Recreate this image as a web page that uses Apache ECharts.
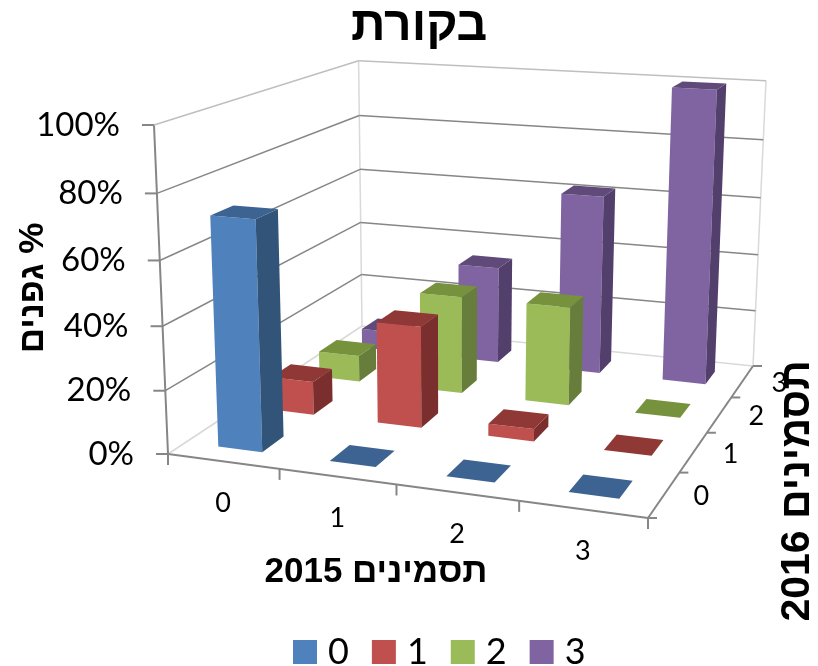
<!DOCTYPE html>
<html dir="rtl">
<head>
<meta charset="utf-8">
<style>
html,body{margin:0;padding:0;background:#fff}
#main{width:818px;height:666px}
</style>
<script src="https://cdn.jsdelivr.net/npm/echarts@6/dist/echarts.min.js"></script>
</head>
<body>
<div id="main"></div>
<script>
var categories2015 = ['0', '1', '2', '3'];
var categories2016 = ['0', '1', '2', '3'];
var values0 = [72, 0, 0, 0];
var values1 = [11, 33, 4, 0];
var values2 = [9, 33, 33, 0];
var values3 = [7, 34, 62, 100];
var percentTicks = [0, 20, 40, 60, 80, 100];

var titleText = 'בקורת';
var xName = 'תסמינים 2015';
var yName = '% גפנים';
var zName = 'תסמינים 2016';

// corners of the 3d box on screen
var floorA = [168, 454], floorB = [648, 518], floorC = [753, 366], floorD = [362, 326];
var topA = [154, 125], topC = [766, 79];

function buildCamera() {
	var dx1 = floorB[0] - floorC[0], dx2 = floorD[0] - floorC[0], sx = floorA[0] - floorB[0] + floorC[0] - floorD[0];
	var dy1 = floorB[1] - floorC[1], dy2 = floorD[1] - floorC[1], sy = floorA[1] - floorB[1] + floorC[1] - floorD[1];
	var det = dx1 * dy2 - dx2 * dy1;
	var g = (sx * dy2 - dx2 * sy) / det;
	var h = (dx1 * sy - sx * dy1) / det;
	var a = floorB[0] - floorA[0] + g * floorB[0];
	var b = floorD[0] - floorA[0] + h * floorD[0];
	var d = floorB[1] - floorA[1] + g * floorB[1];
	var e = floorD[1] - floorA[1] + h * floorD[1];
	// the height column is solved from the two wall corners
	var denC = 1 + g + h;
	var r = ((floorC[0] - topC[0]) * denC + topA[0] - floorA[0]) / (topC[0] - topA[0]);
	var p = topA[0] * (1 + r) - floorA[0];
	var q = topA[1] * (1 + r) - floorA[1];
	return function (u, w, t) {
		var den = g * u + h * w + 1 + r * t;
		return [(a * u + b * w + floorA[0] + p * t) / den, (d * u + e * w + floorA[1] + q * t) / den];
	};
}
var project = buildCamera();

// turn axis values into 0..1 box units through the hidden cartesian grid
function unitX(api, params, v) {
	return (api.coord([v, 0])[0] - params.coordSys.x) / params.coordSys.width;
}
function unitH(api, params, v) {
	return (params.coordSys.y + params.coordSys.height - api.coord([0, v])[1]) / params.coordSys.height;
}

function face(points, color) {
	return {type: 'polygon', shape: {points: points}, style: {fill: color}};
}

function barRenderer(colors) {
	return function (params, api) {
		var half = 0.2;
		var u0 = unitX(api, params, api.value(0) + 0.5 - half);
		var u1 = unitX(api, params, api.value(0) + 0.5 + half);
		var w0 = unitX(api, params, api.value(1) + 0.5 - half);
		var w1 = unitX(api, params, api.value(1) + 0.5 + half);
		var t = unitH(api, params, api.value(2));
		var kids = [];
		if (t > 0) {
			kids.push(face([project(u0, w0, 0), project(u1, w0, 0), project(u1, w0, t), project(u0, w0, t)], colors[0]));
			kids.push(face([project(u1, w0, 0), project(u1, w1, 0), project(u1, w1, t), project(u1, w0, t)], colors[2]));
		}
		kids.push(face([project(u0, w0, t), project(u1, w0, t), project(u1, w1, t), project(u0, w1, t)], colors[1]));
		return {type: 'group', children: kids};
	};
}

function line(from, to, color, width) {
	return {type: 'line', shape: {x1: from[0], y1: from[1], x2: to[0], y2: to[1]}, style: {stroke: color, lineWidth: width}};
}

function label(pos, str, size, align) {
	return {type: 'text', x: pos[0], y: pos[1], style: {text: str, font: size + 'px Lato', fill: '#000', align: align, verticalAlign: 'middle'}};
}

// walls, gridlines, ticks and tick labels
function frameRenderer(params, api) {
	var kids = [];
	var axisColor = '#868686', lightColor = '#d9d9d9';
	var i = params.dataIndex;
	if (i === 0) {
		kids.push(line(project(0, 1, 0), project(0, 1, 1), lightColor, 1.5));
		kids.push(line(project(1, 1, 0), project(1, 1, 1), lightColor, 1.5));
		kids.push(line(project(0, 0, 0), project(0, 1, 0), lightColor, 1.5));
		kids.push(line(project(0, 1, 0), project(1, 1, 0), lightColor, 1.5));
		kids.push(line(project(0, 0, 0), project(0, 0, 1), axisColor, 2));
		kids.push(line(project(0, 0, 0), project(1, 0, 0), axisColor, 2));
		kids.push(line(project(1, 0, 0), project(1, 1, 0), axisColor, 2));
		for (var k = 0; k <= 4; k++) {
			var fx = project(k / 4, 0, 0);
			kids.push(line(fx, [fx[0], fx[1] + 11], axisColor, 2));
			var fz = project(1, k / 4, 0);
			kids.push(line(fz, [fz[0] + 9, fz[1]], axisColor, 2));
		}
		categories2015.forEach(function (c, n) {
			var p = project((n + 0.5) / 4, 0, 0);
			kids.push(label([p[0], p[1] + 42], c, 27, 'center'));
		});
		categories2016.forEach(function (c, n) {
			var p = project(1, (n + 0.5) / 4, 0);
			kids.push(label([p[0] + 37, p[1] + 2], c, 27, 'center'));
		});
	}
	var v = api.value(0);
	var t = unitH(api, params, v);
	var gridColor = v === 100 ? '#bfbfbf' : '#868686';
	if (v > 0) {
		kids.push(line(project(0, 0, t), project(0, 1, t), gridColor, 1.5));
		kids.push(line(project(0, 1, t), project(1, 1, t), gridColor, 1.5));
	}
	var s = project(0, 0, t);
	kids.push(line([s[0] - 12, s[1]], s, axisColor, 2));
	kids.push(label([s[0] - 34, s[1]], v + '%', 33, 'right'));
	return {type: 'group', children: kids};
}

function barData(values, row) {
	return values.map(function (v, n) {
		return [n, row, v];
	});
}

function barSeries(name, values, row, colors) {
	return {
		name: name,
		type: 'custom',
		coordinateSystem: 'cartesian2d',
		clip: false,
		silent: true,
		z: 10 - row,
		itemStyle: {color: colors[0]},
		encode: {x: 0, y: 2},
		renderItem: barRenderer(colors),
		data: barData(values, row)
	};
}

var chart = echarts.init(document.getElementById('main'), null, {renderer: 'canvas'});
chart.setOption({
	animation: false,
	backgroundColor: '#fff',
	title: {
		text: titleText,
		left: 351,
		top: 3,
		padding: 0,
		textStyle: {fontFamily: 'Liberation Sans', fontWeight: 'bold', fontSize: 48, color: '#000'}
	},
	legend: {
		data: categories2016,
		left: 293,
		top: 634,
		padding: 0,
		itemWidth: 24,
		itemHeight: 24,
		itemGap: 23,
		icon: 'rect',
		selectedMode: false,
		textStyle: {fontFamily: 'Lato', fontSize: 36, color: '#000', padding: [0, 0, 0, 6]}
	},
	grid: {left: 100, top: 100, width: 400, height: 400, show: false},
	xAxis: {type: 'value', min: 0, max: 4, show: false},
	yAxis: {type: 'value', min: 0, max: 100, show: false},
	graphic: [
		{type: 'text', x: 376, y: 572, style: {text: xName, font: 'bold 35px "Liberation Sans"', fill: '#000', align: 'center', verticalAlign: 'middle'}},
		{type: 'text', x: 33, y: 288, rotation: Math.PI / 2, style: {text: yName, font: 'bold 35px "Liberation Sans"', fill: '#000', align: 'center', verticalAlign: 'middle'}},
		{type: 'text', x: 798, y: 491, rotation: Math.PI / 2, style: {text: zName, font: 'bold 41px "Liberation Sans"', fill: '#000', align: 'center', verticalAlign: 'middle'}}
	],
	series: [
		{
			type: 'custom',
			coordinateSystem: 'cartesian2d',
			clip: false,
			silent: true,
			z: 1,
			encode: {y: 0},
			renderItem: frameRenderer,
			data: percentTicks.map(function (v) { return [v]; })
		},
		barSeries(categories2016[0], values0, 0, ['#4F81BD', '#3C6391', '#335479']),
		barSeries(categories2016[1], values1, 1, ['#C0504D', '#8F3836', '#7A2F2E']),
		barSeries(categories2016[2], values2, 2, ['#9BBB59', '#76923C', '#677D3B']),
		barSeries(categories2016[3], values3, 3, ['#8064A2', '#5F4A7A', '#533F6C'])
	]
});
</script>
</body>
</html>
